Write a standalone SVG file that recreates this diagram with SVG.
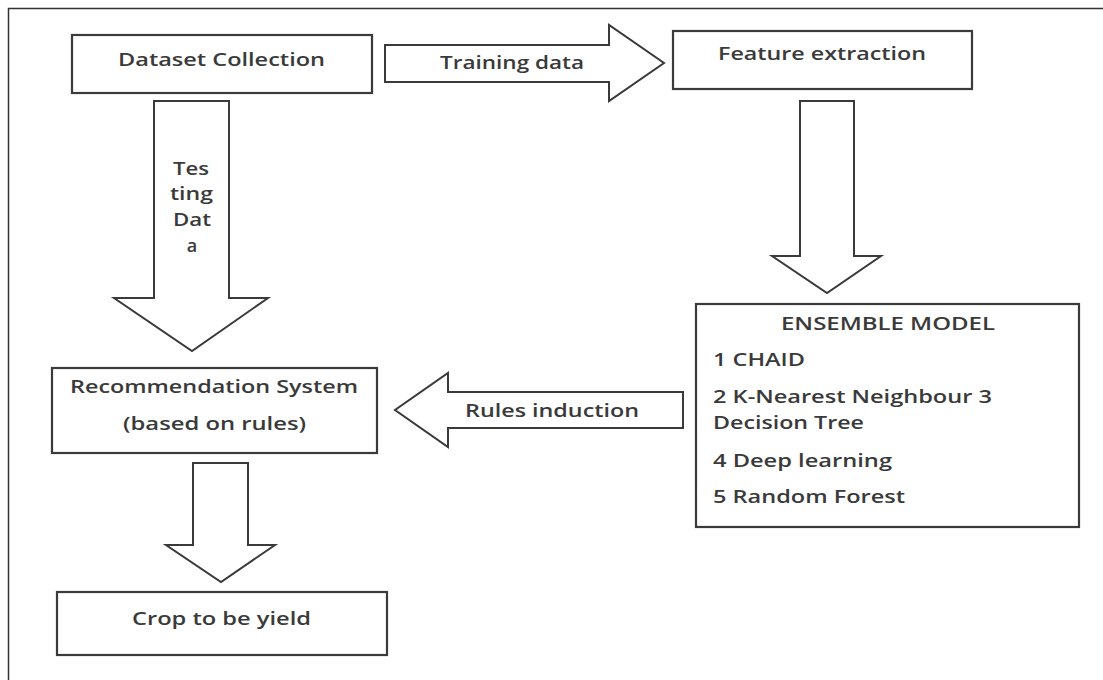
<svg xmlns="http://www.w3.org/2000/svg" width="1103" height="680" viewBox="0 0 1103 680">
<style>
.box{fill:#fff;stroke:#3a3a3a;stroke-width:2.2}
.arr{fill:#fff;stroke:#3a3a3a;stroke-width:2;stroke-linejoin:miter}
.t{font-family:"Open Sans","Liberation Sans",sans-serif;font-size:18px;font-weight:600;fill:#3a3a3a}
.c{text-anchor:middle}
</style>
<rect width="1103" height="680" fill="#fff"/>
<path d="M8.5,680 V8.5 H1103" fill="none" stroke="#333" stroke-width="1.5"/>
<g id="connectors">
  <g id="training-data">
    <polygon class="arr" points="385,45 609,45 609,25 664,63 609,101 609,82 385,82"/>
    <text class="t" x="440" y="69" textLength="144" lengthAdjust="spacingAndGlyphs">Training data</text>
  </g>
  <g id="testing-data">
    <polygon class="arr" points="154,101 229,101 229,298 268,298 192,351 114,298 154,298"/>
    <text class="t" x="173" y="175" textLength="36" lengthAdjust="spacingAndGlyphs">Tes</text>
    <text class="t" x="170" y="200" textLength="43" lengthAdjust="spacingAndGlyphs">ting</text>
    <text class="t" x="173" y="226" textLength="38" lengthAdjust="spacingAndGlyphs">Dat</text>
    <text class="t c" x="192" y="252">a</text>
  </g>
  <g id="feature-to-ensemble">
    <polygon class="arr" points="800,101 854,101 854,256 881,256 827,293 772,256 800,256"/>
  </g>
  <g id="rules-induction">
    <polygon class="arr" points="683,392 448,392 448,373 395,410 448,447 448,428 683,428"/>
    <text class="t" x="465" y="417" textLength="174" lengthAdjust="spacingAndGlyphs">Rules induction</text>
  </g>
  <g id="rec-to-crop">
    <polygon class="arr" points="193,463 248,463 248,545 275,545 221,582 166,545 193,545"/>
  </g>
</g>
<g id="dataset-collection">
  <rect class="box" x="72" y="35" width="300" height="58"/>
  <text class="t" x="118" y="66" textLength="207" lengthAdjust="spacingAndGlyphs">Dataset Collection</text>
</g>
<g id="feature-extraction">
  <rect class="box" x="673" y="31" width="299" height="58"/>
  <text class="t" x="718" y="60" textLength="208" lengthAdjust="spacingAndGlyphs">Feature extraction</text>
</g>
<g id="ensemble-model">
  <rect class="box" x="696" y="304" width="383" height="223"/>
  <text class="t" x="781" y="330" textLength="214" lengthAdjust="spacingAndGlyphs">ENSEMBLE MODEL</text>
  <text class="t" x="713" y="366" textLength="92" lengthAdjust="spacingAndGlyphs">1 CHAID</text>
  <text class="t" x="713" y="403" textLength="279" lengthAdjust="spacingAndGlyphs">2 K-Nearest Neighbour 3</text>
  <text class="t" x="713" y="429" textLength="151" lengthAdjust="spacingAndGlyphs">Decision Tree</text>
  <text class="t" x="713" y="467" textLength="179" lengthAdjust="spacingAndGlyphs">4 Deep learning</text>
  <text class="t" x="713" y="503" textLength="192" lengthAdjust="spacingAndGlyphs">5 Random Forest</text>
</g>
<g id="recommendation-system">
  <rect class="box" x="52" y="368" width="325" height="85"/>
  <text class="t" x="70" y="393" textLength="288" lengthAdjust="spacingAndGlyphs">Recommendation System</text>
  <text class="t" x="123" y="430" textLength="183" lengthAdjust="spacingAndGlyphs">(based on rules)</text>
</g>
<g id="crop-to-be-yield">
  <rect class="box" x="57" y="592" width="330" height="63"/>
  <text class="t" x="132" y="625" textLength="179" lengthAdjust="spacingAndGlyphs">Crop to be yield</text>
</g>
</svg>
